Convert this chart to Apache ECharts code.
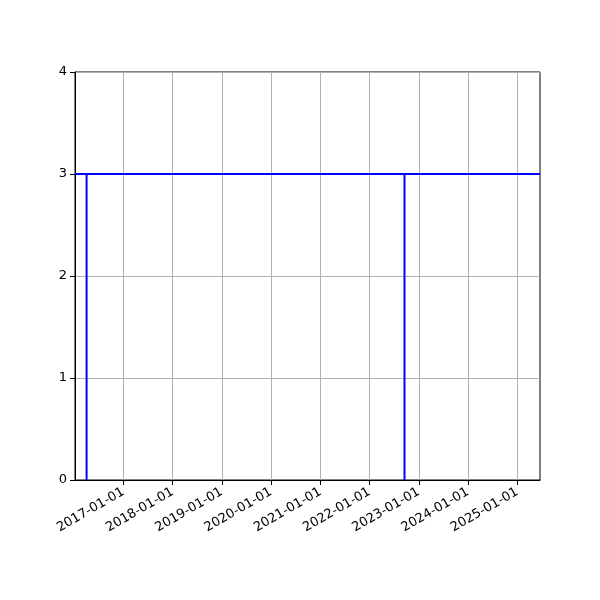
<!DOCTYPE html>
<html>
<head>
<meta charset="utf-8">
<script src="https://cdn.jsdelivr.net/npm/echarts@6/dist/echarts.min.js"></script>
<style>html,body{margin:0;padding:0;background:#fff;}#c{width:600px;height:600px;}</style>
</head>
<body>
<div id="c"></div>
<script>
// x-range of the axes
var xRange = ['2016-01-08', '2025-06-18'];
// horizontal level
var levelValue = 3;
var levelDates = ['2016-01-08', '2025-06-18'];
// vertical segments (date, from, to)
var vlineDates = ['2016-04-03', '2022-09-17'];
var vlineFrom = [0, 0];
var vlineTo = [3, 3];
// tick labels
var tickDates = ['2017-01-01','2018-01-01','2019-01-01','2020-01-01','2021-01-01','2022-01-01','2023-01-01','2024-01-01','2025-01-01'];
var yTicks = [0, 1, 2, 3, 4];

function ts(s){ var p = s.split('-'); return Date.UTC(+p[0], +p[1]-1, +p[2]); }
function fmt(v){ var d = new Date(v); var m = d.getUTCMonth()+1, dd = d.getUTCDate();
  return d.getUTCFullYear() + '-' + (m<10?'0':'') + m + '-' + (dd<10?'0':'') + dd; }

var series = [];
series.push({
  type: 'line', symbol: 'none', silent: true,
  lineStyle: {color: '#0000ff', width: 2},
  data: levelDates.map(function(d){ return [ts(d), levelValue]; })
});
vlineDates.forEach(function(d, i){
  series.push({
    type: 'line', symbol: 'none', silent: true,
    lineStyle: {color: '#0000ff', width: 2},
    data: [[ts(d), vlineFrom[i]], [ts(d), vlineTo[i]]]
  });
});

var tickTs = tickDates.map(ts);
var chart = echarts.init(document.getElementById('c'));
chart.setOption({
  animation: false,
  grid: {left: 75, right: 60, top: 72, bottom: 120, show: true, borderColor: '#000', borderWidth: 1, backgroundColor: 'transparent'},
  xAxis: {
    type: 'value',
    min: ts(xRange[0]), max: ts(xRange[1]),
    axisLine: {show: true, lineStyle: {color: '#000', width: 1}},
    axisTick: {show: true, customValues: tickTs, length: 5, lineStyle: {color: '#000'}},
    axisLabel: {
      customValues: tickTs, rotate: 30, color: '#000',
      fontFamily: 'DejaVu Sans', fontSize: 13, margin: 11,
      formatter: fmt
    },
    splitLine: {show: true, lineStyle: {color: '#b0b0b0', width: 1}}
  },
  yAxis: {
    type: 'value', min: yTicks[0], max: yTicks[yTicks.length-1], interval: 1,
    axisLine: {show: true, lineStyle: {color: '#000', width: 1}},
    axisTick: {show: true, length: 5, lineStyle: {color: '#000'}},
    axisLabel: {color: '#000', fontFamily: 'DejaVu Sans', fontSize: 13, margin: 8},
    splitLine: {show: true, lineStyle: {color: '#b0b0b0', width: 1}}
  },
  series: series
});
</script>
</body>
</html>
